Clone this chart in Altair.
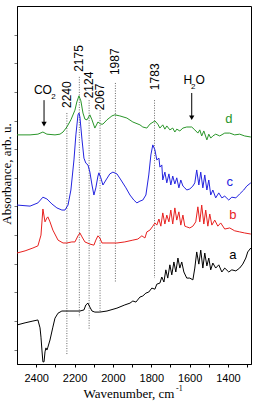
import altair as alt
import pandas as pd

# ---- spectra (wavenumber, cm-1 / absorbance, arb. u.) ----
wn_a = [2500,2458,2417,2391,2380,2375,2370,2365,2359,2354,2349,2344,2339,2328,2313,2302,2286,2266,2224,2172,
        2151,2141,2130,2120,2109,2094,2068,2031,1979,1938,1911,1896,1880,1859,1844,1828,1813,1797,1781,1771,
        1755,1745,1734,1724,1714,1703,1693,1682,1672,1661,1651,1641,1630,1615,1599,1583,1573,1563,1552,1542,
        1531,1521,1510,1500,1490,1479,1464,1448,1432,1417,1396,1380,1359,1339,1323,1307,1297,1281]
abs_a = [1.09,1.15,1.20,1.23,1.01,0.75,0.39,0.06,0.06,0.34,0.45,0.39,0.47,0.67,1.03,1.28,1.42,1.48,1.48,1.48,
         1.51,1.65,1.70,1.59,1.48,1.45,1.45,1.48,1.56,1.65,1.70,1.76,1.73,1.87,1.90,1.98,2.01,2.12,2.09,2.23,
         2.26,2.43,2.29,2.63,2.40,2.77,2.49,2.85,2.57,2.96,2.68,2.85,2.57,2.40,2.40,2.35,2.68,3.13,2.79,3.18,
         2.68,3.10,2.74,2.96,2.63,2.82,2.68,2.77,2.57,2.68,2.57,2.63,2.60,2.68,2.79,2.96,3.13,3.24]

wn_b = [2500,2458,2417,2391,2375,2365,2354,2344,2339,2328,2313,2286,2260,2240,2214,2198,2182,2172,2161,2146,
        2120,2099,2089,2078,2068,2057,2031,1979,1938,1896,1870,1849,1833,1823,1807,1792,1781,1771,1760,1750,
        1740,1729,1719,1708,1698,1688,1677,1667,1656,1646,1635,1625,1615,1599,1583,1568,1557,1547,1537,1526,
        1516,1505,1495,1484,1469,1453,1438,1417,1391,1365,1339,1313,1281]
abs_b = [3.10,3.16,3.24,3.30,3.60,4.33,3.97,4.08,4.11,3.97,3.74,3.46,3.38,3.38,3.41,3.41,3.58,3.66,3.55,3.41,
         3.35,3.32,3.46,3.58,3.52,3.38,3.38,3.38,3.41,3.46,3.49,3.58,3.52,3.69,3.74,3.85,3.94,3.88,4.05,3.85,
         4.22,3.91,4.16,3.97,4.30,3.91,4.36,4.02,4.25,3.88,4.16,3.85,3.83,3.80,3.85,3.97,4.39,3.97,4.44,3.91,
         4.30,3.85,4.19,3.88,4.02,3.85,3.94,3.77,3.80,3.72,3.69,3.66,3.63]

wn_c = [2500,2432,2391,2365,2344,2318,2292,2266,2250,2234,2219,2203,2193,2182,2177,2172,2161,2151,2141,2130,
        2120,2109,2099,2089,2078,2073,2063,2052,2036,2016,2000,1979,1958,1932,1911,1891,1875,1859,1844,1828,
        1813,1802,1792,1781,1771,1760,1755,1745,1740,1729,1719,1708,1698,1688,1677,1667,1656,1646,1635,1625,
        1615,1599,1583,1573,1563,1552,1542,1531,1521,1510,1500,1490,1479,1464,1448,1432,1417,1396,1380,1359,
        1339,1318,1302,1281]
abs_c = [4.44,4.41,4.50,4.66,4.61,4.47,4.36,4.30,4.30,4.44,4.86,5.70,6.40,6.96,7.01,6.90,6.26,5.75,5.61,5.56,
         5.36,5.00,4.72,4.92,5.25,5.34,5.20,5.00,5.14,5.31,5.36,5.31,5.14,4.92,4.72,4.58,4.50,4.55,4.58,4.72,
         5.28,5.84,6.12,5.98,5.70,5.75,5.50,5.56,5.14,5.36,5.06,5.31,5.00,5.25,5.03,5.20,4.92,5.14,4.97,4.92,
         4.86,4.89,4.97,5.06,5.42,5.00,5.36,4.92,5.28,4.86,5.14,4.72,4.86,4.64,4.78,4.64,4.69,4.58,4.66,4.64,
         4.75,4.86,4.97,5.06]

wn_d = [2500,2432,2391,2365,2344,2302,2276,2260,2240,2219,2198,2188,2177,2167,2156,2146,2135,2120,2109,2094,
        2078,2063,2052,2031,2005,1990,1964,1927,1896,1859,1844,1823,1807,1781,1766,1755,1740,1729,1719,1703,
        1688,1677,1667,1651,1635,1615,1589,1573,1557,1547,1537,1526,1510,1500,1490,1479,1464,1443,1417,1391,
        1365,1339,1313,1281]
abs_d = [6.40,6.40,6.42,6.48,6.42,6.40,6.42,6.48,6.62,6.82,7.09,7.32,7.49,7.35,7.01,6.84,6.82,6.96,6.82,6.59,
         6.76,6.70,6.70,6.82,6.93,6.96,6.93,6.87,6.76,6.68,6.62,6.59,6.70,6.79,6.70,6.59,6.68,6.56,6.65,6.54,
         6.59,6.48,6.56,6.51,6.59,6.62,6.62,6.54,6.45,6.54,6.37,6.51,6.26,6.42,6.31,6.37,6.42,6.37,6.45,6.45,
         6.40,6.42,6.37,6.34]

series_names = ["a", "b", "c", "d"]
series_colors = ["#000000", "#e8211f", "#2424e0", "#2a962a"]

# ---- marked bands (dotted lines) ----
band_wn = [2240, 2175, 2124, 2067, 1987, 1783]
band_top = [7.01, 8.02, 7.37, 7.09, 7.85, 7.37]
band_bottom = [0.25, 1.31, 0.95, 1.45, 2.29, 2.40]
band_label_base = [7.15, 8.16, 7.42, 7.09, 8.07, 7.65]

# ---- curve letters ----
letter_wn = [1375, 1375, 1391, 1396]
letter_abs = [3.04, 4.16, 5.08, 6.84]

rows = []
for name, wns, vals in zip(series_names, [wn_a, wn_b, wn_c, wn_d], [abs_a, abs_b, abs_c, abs_d]):
    for i, (w, v) in enumerate(zip(wns, vals)):
        rows.append({"series": name, "wn": w, "A": v, "i": i})
df = pd.DataFrame(rows)

bands = pd.DataFrame({"wn": band_wn, "top": band_top, "bottom": band_bottom,
                      "lab": band_label_base, "text": [str(v) for v in band_wn]})
letters = pd.DataFrame({"series": series_names, "wn": letter_wn, "A": letter_abs})

SANS = "Liberation Sans, Arial, sans-serif"
SERIF = "Liberation Serif, Times New Roman, serif"

x_scale = alt.Scale(domain=[2500, 1280], nice=False, zero=False)
y_scale = alt.Scale(domain=[0, 10], nice=False, zero=False)
x_axis = alt.Axis(values=list(range(2400, 1250, -100)), format="d",
                  labelExpr="datum.value % 200 == 0 ? datum.label : ''",
                  grid=False, tickSize=3, tickColor="black", domainColor="black",
                  labelFont=SANS, labelFontSize=11, labelColor="black", labelPadding=5,
                  title=None)
y_axis = alt.Axis(values=[0.4 + 0.8 * k for k in range(12)], labels=False, grid=False,
                  tickSize=3, tickColor="#777777", domainColor="black", title=None)
color_scale = alt.Scale(domain=series_names, range=series_colors)

X = alt.X("wn:Q", scale=x_scale, axis=x_axis)

lines = alt.Chart(df).mark_line(strokeWidth=1).encode(
    x=X,
    y=alt.Y("A:Q", scale=y_scale, axis=y_axis),
    color=alt.Color("series:N", scale=color_scale, legend=None),
    order="i:Q",
)

rules = alt.Chart(bands).mark_rule(strokeDash=[1, 1.5], color="#555555", strokeWidth=0.9).encode(
    x=X, y=alt.Y("top:Q", scale=y_scale, axis=y_axis), y2="bottom:Q"
)

band_text = alt.Chart(bands).mark_text(angle=270, align="left", baseline="middle",
                                       font=SANS, fontSize=12, color="black").encode(
    x=X, y=alt.Y("lab:Q", scale=y_scale, axis=y_axis), text="text:N"
)

letter_text = alt.Chart(letters).mark_text(font=SANS, fontSize=13, baseline="middle").encode(
    x=X, y=alt.Y("A:Q", scale=y_scale, axis=y_axis), text="series:N",
    color=alt.Color("series:N", scale=color_scale, legend=None),
)

# ---- CO2 / H2O annotations ----
ann_text = pd.DataFrame({
    "wn": [2365, 2310, 1609, 1581, 1545],
    "A": [7.65, 7.47, 7.93, 7.75, 7.93],
    "t": ["CO", "2", "H", "2", "O"],
    "size": [12, 8, 12, 8, 12],
})
ann = alt.Chart(ann_text).mark_text(font=SANS, baseline="middle", color="black").encode(
    x=X, y=alt.Y("A:Q", scale=y_scale, axis=y_axis), text="t:N",
    size=alt.Size("size:Q", scale=None, legend=None),
)

arrows = pd.DataFrame({"wn": [2359, 1589], "top": [7.37, 7.57], "bottom": [6.72, 6.90],
                       "head": [6.70, 6.88]})
shafts = alt.Chart(arrows).mark_rule(color="black", strokeWidth=1).encode(
    x=X, y=alt.Y("top:Q", scale=y_scale, axis=y_axis), y2="bottom:Q"
)
heads = alt.Chart(arrows).mark_point(shape="triangle-down", filled=True, size=28,
                                     color="black", opacity=1).encode(
    x=X, y=alt.Y("head:Q", scale=y_scale, axis=y_axis)
)

one = pd.DataFrame({"k": [0]})
x_title = alt.Chart(one).mark_text(font=SERIF, fontSize=13, align="center",
                                   baseline="alphabetic", color="black").encode(
    x=alt.value(112), y=alt.value(392), text=alt.value("Wavenumber, cm")
)
x_title_sup = alt.Chart(one).mark_text(font=SERIF, fontSize=8, align="left",
                                       baseline="alphabetic", color="black").encode(
    x=alt.value(159), y=alt.value(385), text=alt.value("-1")
)
y_title = alt.Chart(one).mark_text(font=SERIF, fontSize=13, align="center", angle=270,
                                   baseline="middle", color="black").encode(
    x=alt.value(-10), y=alt.value(168), text=alt.value("Absorbance, arb. u.")
)

chart = alt.layer(
    rules, lines, band_text, letter_text, ann, shafts, heads, x_title, x_title_sup, y_title
).properties(
    width=234, height=358,
    autosize=alt.AutoSizeParams(type="none"),
    padding={"left": 17, "top": 6, "right": 2, "bottom": 37},
).configure_view(stroke="black", strokeWidth=1)

chart.save("out.html", embed_options={"renderer": "svg", "actions": False})
